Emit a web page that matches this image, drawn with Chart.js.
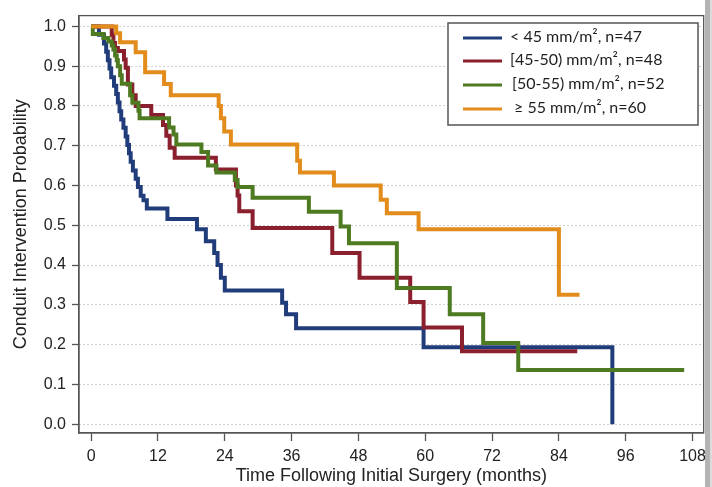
<!DOCTYPE html>
<html>
<head>
<meta charset="utf-8">
<script src="https://cdn.jsdelivr.net/npm/chart.js@4.4.1/dist/chart.umd.min.js"></script>
<style>
html,body{margin:0;padding:0;background:#fff;}
#wrap{width:712px;height:487px;position:relative;}
</style>
</head>
<body>
<div id="wrap"><canvas id="c" width="712" height="487"></canvas></div>
<script>
// ---- data ----
const xTicks = [0, 12, 24, 36, 48, 60, 72, 84, 96, 108];
const yTicks = [0, 0.1, 0.2, 0.3, 0.4, 0.5, 0.6, 0.7, 0.8, 0.9, 1.0];

const seriesLabels = ["< 45 mm/m\u00B2, n=47", "[45-50) mm/m\u00B2, n=48", "[50-55) mm/m\u00B2, n=52", "\u2265 55 mm/m\u00B2, n=60"];

const blueTime = [0, 1.4, 2.3, 2.7, 3.0, 3.3, 3.6, 4.1, 4.5, 4.8, 5.1, 5.4, 5.8, 6.2, 6.5, 6.8, 7.1, 7.5, 8.0, 8.4, 8.9, 9.4, 10.0, 13.7, 19.0, 20.6, 22.1, 22.7, 23.3, 24.0, 34.3, 35.0, 36.8, 59.7, 93.6];
const blueSurv = [1.0, 0.979, 0.957, 0.936, 0.915, 0.894, 0.872, 0.851, 0.830, 0.809, 0.787, 0.766, 0.745, 0.723, 0.702, 0.681, 0.660, 0.638, 0.617, 0.596, 0.574, 0.563, 0.542, 0.516, 0.490, 0.460, 0.430, 0.400, 0.368, 0.336, 0.305, 0.276, 0.241, 0.193, 0.0];

const redTime = [0, 3.7, 4.0, 4.3, 4.8, 5.9, 6.2, 6.6, 7.4, 8.0, 10.8, 12.9, 13.5, 14.1, 15.0, 22.4, 26.0, 26.3, 26.6, 29.0, 43.3, 48.2, 57.3, 59.7, 66.6, 87.3];
const redSurv = [1.0, 0.979, 0.958, 0.946, 0.938, 0.917, 0.896, 0.854, 0.827, 0.800, 0.777, 0.752, 0.725, 0.695, 0.670, 0.640, 0.600, 0.575, 0.535, 0.493, 0.430, 0.368, 0.307, 0.243, 0.183, 0.183];

const greenTime = [0, 0.3, 2.2, 3.1, 3.7, 4.0, 4.3, 4.6, 4.8, 5.2, 5.5, 7.0, 7.4, 8.5, 8.7, 14.0, 14.8, 15.3, 19.8, 21.0, 22.5, 25.8, 26.3, 29.0, 39.1, 44.8, 46.3, 54.9, 64.4, 70.4, 76.7, 106.5];
const greenSurv = [1.0, 0.981, 0.971, 0.962, 0.952, 0.942, 0.927, 0.915, 0.900, 0.877, 0.856, 0.827, 0.808, 0.788, 0.769, 0.746, 0.728, 0.703, 0.684, 0.650, 0.633, 0.614, 0.596, 0.569, 0.534, 0.497, 0.455, 0.342, 0.276, 0.204, 0.136, 0.136];

const orangeTime = [0, 4.5, 5.2, 8.0, 9.7, 13.1, 14.3, 22.9, 23.3, 23.9, 25.1, 37.0, 37.5, 43.6, 52.0, 53.1, 58.8, 84.0, 87.7];
const orangeSurv = [1.0, 0.983, 0.960, 0.935, 0.885, 0.855, 0.827, 0.800, 0.769, 0.736, 0.703, 0.662, 0.633, 0.600, 0.564, 0.530, 0.490, 0.325, 0.325];

const colors = ["#203c7a", "#8a1f2d", "#4e7a22", "#e28c1c"];

function pts(t, s){ return t.map((v,i)=>({x:v, y:s[i]})); }

const series = [[blueTime, blueSurv], [redTime, redSurv], [greenTime, greenSurv], [orangeTime, orangeSurv]];

const datasets = series.map((p, i) => ({
  label: seriesLabels[i],
  data: pts(p[0], p[1]),
  borderColor: colors[i],
  backgroundColor: colors[i],
  borderWidth: 4,
  stepped: true,
  pointRadius: 0,
  fill: false,
  borderJoinStyle: 'miter',
  borderCapStyle: 'butt',
  order: 3 - i
}));

const FONT = "'Liberation Sans', Arial, Helvetica, sans-serif";

const framePlugin = {
  id: 'framePlugin',
  afterDraw(chart){
    const ctx = chart.ctx;
    const a = chart.chartArea;
    ctx.save();
    // plot frame
    ctx.strokeStyle = '#555';
    ctx.lineWidth = 1.3;
    ctx.strokeRect(a.left, a.top, a.right - a.left, a.bottom - a.top);
    // legend box
    const bx = 448, by = 23, bw = 250, bh = 102;
    ctx.fillStyle = '#fff';
    ctx.fillRect(bx, by, bw, bh);
    ctx.strokeStyle = '#555';
    ctx.lineWidth = 1.5;
    ctx.strokeRect(bx, by, bw, bh);
    const rows = [38, 61, 85, 109];
    const textX = [510, 510, 512, 514];
    ctx.font = "16px Lato, 'Open Sans', sans-serif";
    ctx.textBaseline = 'middle';
    ctx.textAlign = 'left';
    chart.data.datasets.forEach((ds, i) => {
      ctx.strokeStyle = ds.borderColor;
      ctx.lineWidth = 3;
      ctx.beginPath();
      ctx.moveTo(463, rows[i]);
      ctx.lineTo(502, rows[i]);
      ctx.stroke();
      ctx.fillStyle = '#1e1e1e';
      ctx.fillText(ds.label, textX[i], rows[i] - 1);
    });
    // right-edge shadow strip
    ctx.fillStyle = '#b4b4b4';
    ctx.fillRect(705, 0, 5, 487);
    ctx.fillStyle = '#dcdcdc';
    ctx.fillRect(710, 0, 2, 487);
    ctx.restore();
  }
};

new Chart(document.getElementById('c'), {
  type: 'line',
  data: { datasets },
  options: {
    responsive: false,
    animation: false,
    layout: { padding: { top: 9, right: 6, left: 0, bottom: 0 } },
    plugins: { legend: { display: false }, tooltip: { enabled: false } },
    scales: {
      x: {
        type: 'linear',
        min: -2.18,
        max: 110,
        afterFit(s){ s.height = 54; },
        afterBuildTicks(s){ s.ticks = xTicks.map(v => ({ value: v })); },
        grid: { drawOnChartArea: false, drawTicks: true, tickLength: 8, tickColor: '#555', tickWidth: 1.3 },
        border: { display: true, color: '#555', width: 1.3 },
        ticks: { padding: 6, color: '#222', font: { family: FONT, size: 16 }, maxRotation: 0, autoSkip: false, callback: v => String(v) },
        title: { display: true, text: 'Time Following Initial Surgery (months)', color: '#222', font: { family: FONT, size: 18 }, padding: { top: 0, bottom: 0 } }
      },
      y: {
        type: 'linear',
        min: -0.0223,
        max: 1.0272,
        afterFit(s){ s.width = 79; },
        afterBuildTicks(s){ s.ticks = yTicks.map(v => ({ value: v })); },
        grid: { drawOnChartArea: true, color: '#c2c2c2', lineWidth: 1, tickLength: 7, tickColor: '#555', tickWidth: 1.3, tickBorderDash: [100, 0] },
        border: { display: true, color: '#555', width: 1.3, dash: [1.5, 2.5] },
        ticks: { padding: 6, color: '#222', font: { family: FONT, size: 16 }, autoSkip: false, callback: v => Number(v).toFixed(1) },
        title: { display: true, text: 'Conduit Intervention Probability', color: '#222', font: { family: FONT, size: 18 }, padding: { top: 10, bottom: 0 } }
      }
    }
  },
  plugins: [framePlugin]
});
</script>
</body>
</html>
